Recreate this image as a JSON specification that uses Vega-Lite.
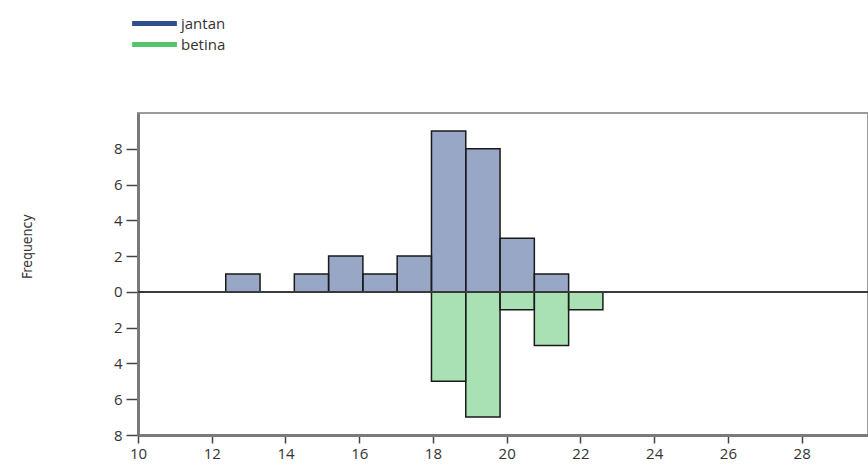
{
  "$schema": "https://vega.github.io/schema/vega-lite/v6.json",
  "width": 730,
  "height": 322,
  "autosize": {"type": "none"},
  "padding": {"left": 138, "top": 113, "right": 0, "bottom": 31},
  "background": "white",
  "config": {
    "view": {"stroke": "#9a9a9a", "strokeWidth": 2},
    "font": "Open Sans"
  },
  "layer": [
    {
      "data": {"values": [
        {"sex": "jantan", "x0": 12.38, "x1": 13.31, "count": 1},
        {"sex": "jantan", "x0": 14.24, "x1": 15.17, "count": 1},
        {"sex": "jantan", "x0": 15.17, "x1": 16.10, "count": 2},
        {"sex": "jantan", "x0": 16.10, "x1": 17.03, "count": 1},
        {"sex": "jantan", "x0": 17.03, "x1": 17.96, "count": 2},
        {"sex": "jantan", "x0": 17.96, "x1": 18.89, "count": 9},
        {"sex": "jantan", "x0": 18.89, "x1": 19.82, "count": 8},
        {"sex": "jantan", "x0": 19.82, "x1": 20.75, "count": 3},
        {"sex": "jantan", "x0": 20.75, "x1": 21.68, "count": 1},
        {"sex": "betina", "x0": 17.96, "x1": 18.89, "count": -5},
        {"sex": "betina", "x0": 18.89, "x1": 19.82, "count": -7},
        {"sex": "betina", "x0": 19.82, "x1": 20.75, "count": -1},
        {"sex": "betina", "x0": 20.75, "x1": 21.68, "count": -3},
        {"sex": "betina", "x0": 21.68, "x1": 22.61, "count": -1}
      ]},
      "mark": {"type": "bar", "stroke": "#1a1a1a", "strokeWidth": 1.5, "fillOpacity": 0.5},
      "encoding": {
        "x": {
          "field": "x0", "type": "quantitative",
          "scale": {"domain": [10, 29.8], "nice": false, "zero": false},
          "axis": {
            "title": null,
            "values": [10, 12, 14, 16, 18, 20, 22, 24, 26, 28],
            "grid": false,
            "domainColor": "#7a7a7a", "domainWidth": 3,
            "tickColor": "#444", "tickWidth": 1.5, "tickSize": 8,
            "labelFontSize": 15, "labelColor": "#333", "labelPadding": 3,
            "labelFlush": false
          }
        },
        "x2": {"field": "x1"},
        "y": {
          "field": "count", "type": "quantitative",
          "scale": {"domain": [-8, 10], "nice": false},
          "axis": {
            "title": "Frequency",
            "titleFont": "DejaVu Sans Condensed",
            "titleFontWeight": "normal",
            "titleFontSize": 14,
            "titleColor": "#333",
            "titleX": -111,
            "titleY": 133,
            "titleAngle": -90,
            "titleBaseline": "middle",
            "values": [-8, -6, -4, -2, 0, 2, 4, 6, 8],
            "labelExpr": "abs(datum.value)",
            "grid": false,
            "domainColor": "#7a7a7a", "domainWidth": 3,
            "tickColor": "#444", "tickWidth": 1.5, "tickSize": 12,
            "labelFontSize": 15, "labelColor": "#333", "labelPadding": 4
          }
        },
        "y2": {"datum": 0},
        "fill": {
          "field": "sex", "type": "nominal",
          "scale": {"domain": ["jantan", "betina"], "range": ["#2f4f8c", "#54c46a"]},
          "legend": {
            "title": null,
            "orient": "none",
            "legendX": 9,
            "legendY": -97,
            "symbolType": "M-3.2,-0.36H3.2V0.36H-3.2Z",
            "symbolSize": 196,
            "symbolStrokeWidth": 0,
            "symbolOpacity": 1,
            "labelFontSize": 15,
            "labelColor": "#333",
            "labelOffset": 19,
            "rowPadding": 5
          }
        }
      }
    },
    {
      "data": {"values": [{"y": 0}]},
      "mark": {"type": "rule", "color": "#3a3a3a", "strokeWidth": 2},
      "encoding": {"y": {"field": "y", "type": "quantitative"}}
    }
  ]
}
